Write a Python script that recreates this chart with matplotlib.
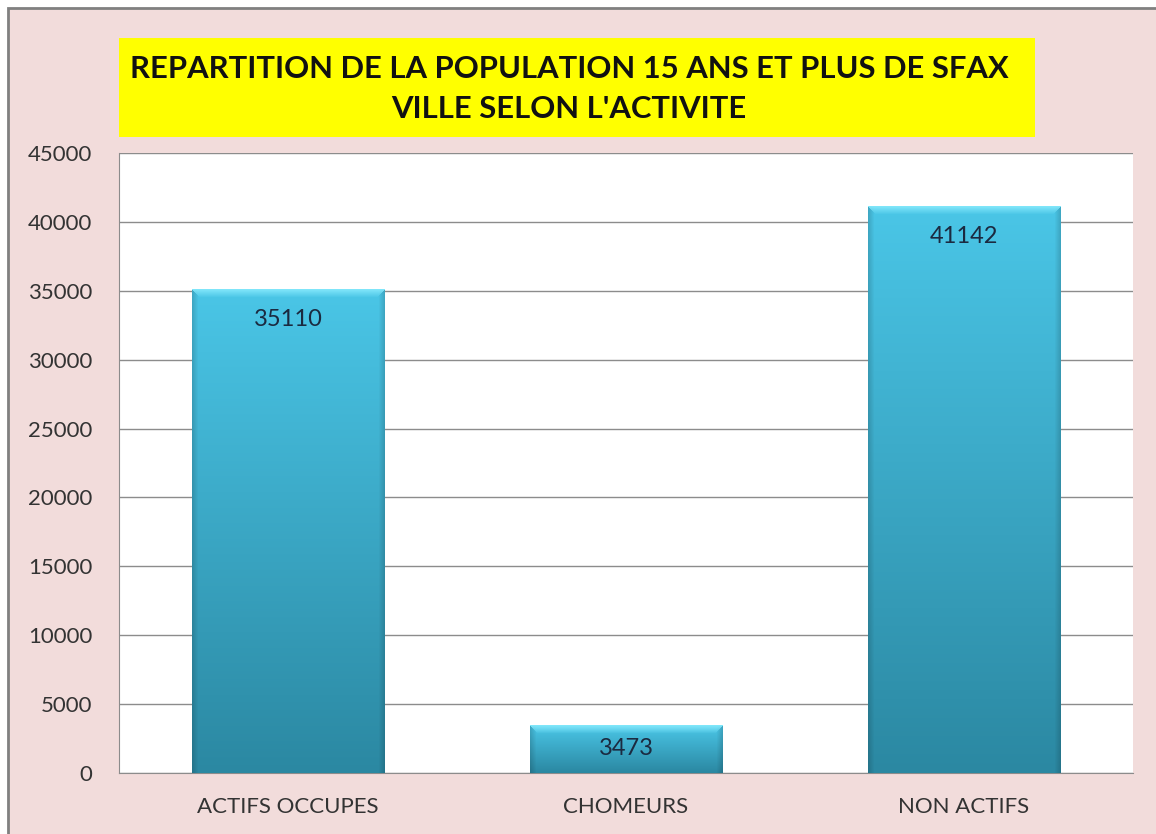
import numpy as np
import matplotlib
matplotlib.use('Agg')
import matplotlib.pyplot as plt
from matplotlib.patches import Rectangle

# Values
categories = ['ACTIFS OCCUPES', 'CHOMEURS', 'NON ACTIFS']
population = [35110, 3473, 41142]
yticks = [0, 5000, 10000, 15000, 20000, 25000, 30000, 35000, 40000, 45000]
title = "REPARTITION DE LA POPULATION 15 ANS ET PLUS DE SFAX\nVILLE SELON L'ACTIVITE"

plt.rcParams['font.family'] = ['Lato', 'DejaVu Sans']

W, H = 1156, 834
fig = plt.figure(figsize=(W / 100, H / 100), dpi=100, facecolor='white')

# pink chart area with grey frame
fig.patches.append(Rectangle((8 / W, -0.01), 1.02, 1 - 8 / H + 0.01, transform=fig.transFigure,
                             facecolor='#F2DCDB', edgecolor='#808080', linewidth=2, zorder=-2))

ax = fig.add_axes([119 / W, 1 - 773 / H, (1133 - 119) / W, (773 - 153) / H])
ax.set_facecolor('white')

x = np.arange(len(categories))
bars = ax.bar(x, population, width=0.57, color='#3AB2D6', zorder=2)
ax.set_xlim(-0.5, len(categories) - 0.5)
ax.set_ylim(0, 45000)

# gradient fill for each bar (light cyan top -> teal bottom, darker sides, bevelled top)
top_c = np.array([0x4A, 0xC6, 0xE7]) / 255
bot_c = np.array([0x2B, 0x88, 0xA2]) / 255
bevel_c = np.array([0x80, 0xE6, 0xFA]) / 255
px_per_unit = (773 - 153) / 45000
for b in bars:
    hpx = max(int(b.get_height() * px_per_unit), 2)
    wpx = 193
    t = np.linspace(0, 1, hpx)[:, None, None]
    img = top_c * (1 - t) + bot_c * t
    img = np.repeat(img, wpx, axis=1)
    cols = np.arange(wpx)
    edge = np.minimum(cols, wpx - 1 - cols)
    shade = np.clip(edge / 6.0, 0, 1) * 0.15 + 0.85
    img = img * shade[None, :, None]
    bev = 8
    for r in range(min(bev, hpx)):
        a = r / bev
        img[r, r:wpx - r] = bevel_c * (1 - a) + img[r, r:wpx - r] * a
    ax.imshow(img, extent=(b.get_x(), b.get_x() + b.get_width(), 0, b.get_height()),
              aspect='auto', zorder=3, interpolation='bilinear')
    off = min(30, hpx / 2)
    ax.annotate(f'{int(b.get_height())}', (b.get_x() + b.get_width() / 2, b.get_height()),
                xytext=(0, -off), textcoords='offset pixels', ha='center', va='center',
                fontsize=17, color='#1B2A40', zorder=4)

ax.set_xlim(-0.5, len(categories) - 0.5)
ax.set_ylim(0, 45000)
ax.set_yticks(yticks)
ax.set_xticks(x)
ax.set_xticklabels(categories)
ax.tick_params(axis='both', length=0, labelsize=16, colors='#333333')
ax.tick_params(axis='y', pad=19)
ax.tick_params(axis='x', pad=17)
ax.grid(axis='y', color='#8C8C8C', linewidth=1)
ax.set_axisbelow(True)
for s in ['top', 'right']:
    ax.spines[s].set_visible(False)
ax.spines['left'].set_color('#8C8C8C')
ax.spines['bottom'].set_color('#8C8C8C')

# yellow title box
fig.patches.append(Rectangle((119 / W, 1 - 137 / H), (1035 - 119) / W, (137 - 38) / H,
                             transform=fig.transFigure, facecolor='#FFFF00', edgecolor='none', zorder=-1))
fig.text(569 / W, 1 - 89 / H, title, ha='center', va='center', fontsize=22.3, fontweight='bold',
         color='#111111', linespacing=1.55)

fig.savefig('out.png', dpi=100, facecolor=fig.get_facecolor())
